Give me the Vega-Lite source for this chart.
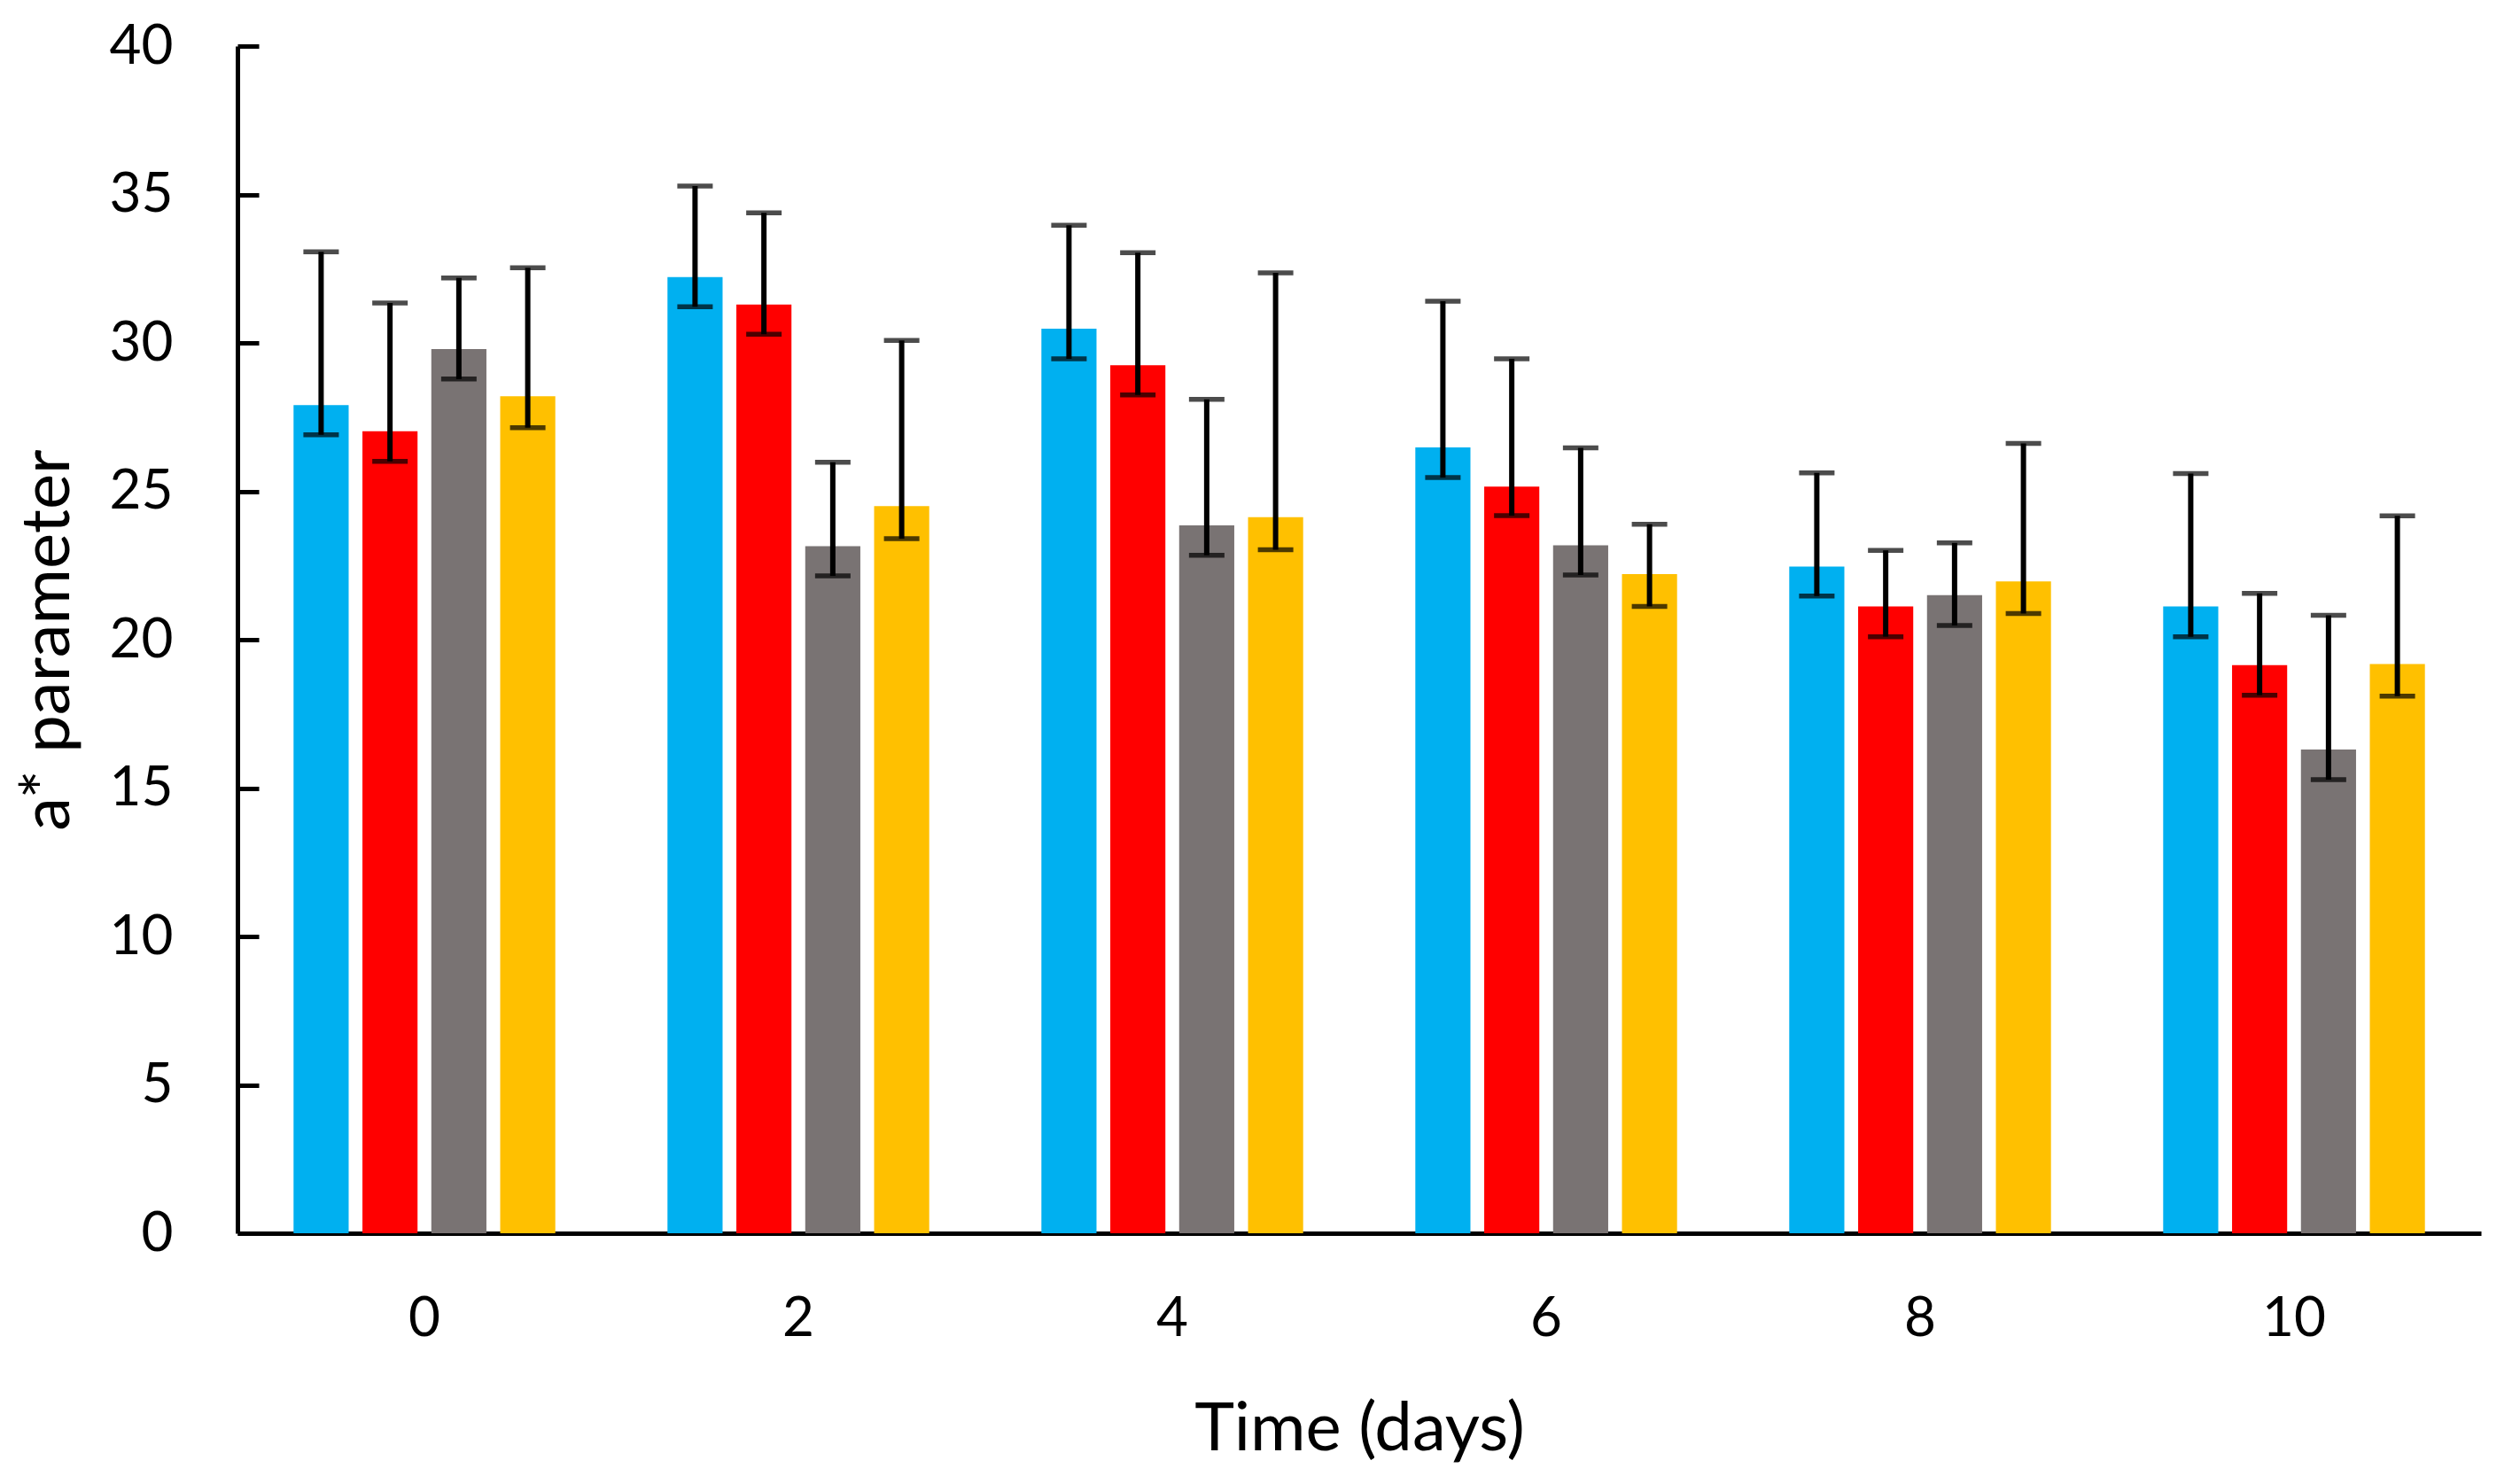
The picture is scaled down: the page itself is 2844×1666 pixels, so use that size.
{
  "$schema": "https://vega.github.io/schema/vega-lite/v6.json",
  "description": "a* parameter over storage time, four series with error bars",
  "width": 2532,
  "height": 1340,
  "autosize": {"type": "none"},
  "padding": {"left": 268, "top": 52, "right": 44, "bottom": 274},
  "background": "white",
  "data": {
    "values": [
      {"day": 0, "series": "S1", "value": 27.9, "lo": 26.9, "hi": 33.07},
      {"day": 0, "series": "S2", "value": 27.02, "lo": 26.01, "hi": 31.34},
      {"day": 0, "series": "S3", "value": 29.79, "lo": 28.78, "hi": 32.19},
      {"day": 0, "series": "S4", "value": 28.2, "lo": 27.14, "hi": 32.53},
      {"day": 2, "series": "S1", "value": 32.22, "lo": 31.22, "hi": 35.28},
      {"day": 2, "series": "S2", "value": 31.29, "lo": 30.29, "hi": 34.38},
      {"day": 2, "series": "S3", "value": 23.15, "lo": 22.15, "hi": 25.98},
      {"day": 2, "series": "S4", "value": 24.5, "lo": 23.4, "hi": 30.08},
      {"day": 4, "series": "S1", "value": 30.48, "lo": 29.46, "hi": 33.96},
      {"day": 4, "series": "S2", "value": 29.25, "lo": 28.25, "hi": 33.04},
      {"day": 4, "series": "S3", "value": 23.85, "lo": 22.84, "hi": 28.1},
      {"day": 4, "series": "S4", "value": 24.13, "lo": 23.03, "hi": 32.36},
      {"day": 6, "series": "S1", "value": 26.48, "lo": 25.46, "hi": 31.4},
      {"day": 6, "series": "S2", "value": 25.16, "lo": 24.18, "hi": 29.46},
      {"day": 6, "series": "S3", "value": 23.18, "lo": 22.18, "hi": 26.46},
      {"day": 6, "series": "S4", "value": 22.21, "lo": 21.12, "hi": 23.89},
      {"day": 8, "series": "S1", "value": 22.46, "lo": 21.47, "hi": 25.62},
      {"day": 8, "series": "S2", "value": 21.12, "lo": 20.1, "hi": 23.01},
      {"day": 8, "series": "S3", "value": 21.5, "lo": 20.48, "hi": 23.26},
      {"day": 8, "series": "S4", "value": 21.96, "lo": 20.88, "hi": 26.61},
      {"day": 10, "series": "S1", "value": 21.12, "lo": 20.1, "hi": 25.6},
      {"day": 10, "series": "S2", "value": 19.14, "lo": 18.13, "hi": 21.56},
      {"day": 10, "series": "S3", "value": 16.3, "lo": 15.28, "hi": 20.82},
      {"day": 10, "series": "S4", "value": 19.18, "lo": 18.1, "hi": 24.17}
    ]
  },
  "encoding": {
    "x": {
      "field": "day",
      "type": "ordinal",
      "scale": {"paddingInner": 0.3, "paddingOuter": 0.15},
      "axis": {
        "title": "Time (days)",
        "labelAngle": 0,
        "ticks": false,
        "labelPadding": 66,
        "titlePadding": 57
      }
    },
    "xOffset": {
      "field": "series",
      "type": "nominal",
      "scale": {"paddingInner": 0.2, "paddingOuter": 0}
    }
  },
  "layer": [
    {
      "mark": {"type": "bar"},
      "encoding": {
        "y": {
          "field": "value",
          "type": "quantitative",
          "scale": {"domain": [0, 40]},
          "axis": {
            "title": "a* parameter",
            "values": [0, 5, 10, 15, 20, 25, 30, 35, 40],
            "grid": false,
            "tickSize": -24,
            "tickWidth": 5,
            "tickColor": "black",
            "labelPadding": 97,
            "titlePadding": 30
          }
        },
        "color": {
          "field": "series",
          "type": "nominal",
          "scale": {"range": ["#00B0F0", "#FF0000", "#797373", "#FFC000"]},
          "legend": null
        }
      }
    },
    {
      "mark": {"type": "rule", "color": "black", "strokeWidth": 6},
      "encoding": {
        "y": {"field": "lo", "type": "quantitative", "title": "a* parameter"},
        "y2": {"field": "hi"}
      }
    },
    {
      "mark": {"type": "tick", "color": "black", "thickness": 5.5, "size": 40, "orient": "horizontal"},
      "encoding": {
        "y": {"field": "hi", "type": "quantitative", "title": "a* parameter"}
      }
    },
    {
      "mark": {"type": "tick", "color": "black", "thickness": 5.5, "size": 40, "orient": "horizontal"},
      "encoding": {
        "y": {"field": "lo", "type": "quantitative", "title": "a* parameter"}
      }
    }
  ],
  "config": {
    "view": {"stroke": null},
    "font": "Lato",
    "axis": {
      "domainColor": "black",
      "domainWidth": 5,
      "labelColor": "black",
      "labelFontSize": 62,
      "labelFont": "Lato",
      "titleColor": "black",
      "titleFontSize": 76,
      "titleFont": "Lato",
      "titleFontWeight": "normal"
    }
  }
}
